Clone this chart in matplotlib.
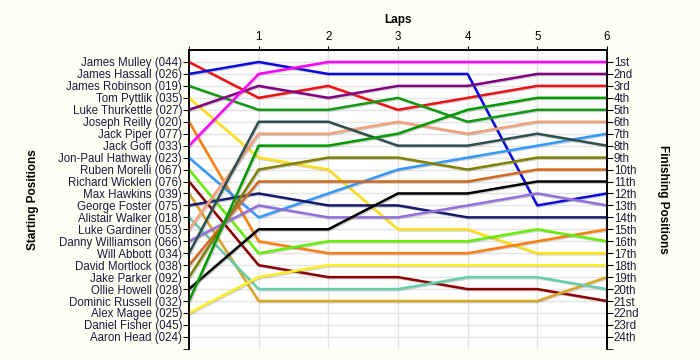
import matplotlib
matplotlib.use("Agg")
import matplotlib.pyplot as plt
import matplotlib.patheffects as pe

plt.rcParams["font.family"] = ["Liberation Sans", "DejaVu Sans"]

starting_names = [
    "James Mulley (044)", "James Hassall (026)", "James Robinson (019)",
    "Tom Pyttlik (035)", "Luke Thurkettle (027)", "Joseph Reilly (020)",
    "Jack Piper (077)", "Jack Goff (033)", "Jon-Paul Hathway (023)",
    "Ruben Morelli (067)", "Richard Wicklen (076)", "Max Hawkins (039)",
    "George Foster (075)", "Alistair Walker (018)", "Luke Gardiner (053)",
    "Danny Williamson (066)", "Will Abbott (034)", "David Mortlock (038)",
    "Jake Parker (092)", "Ollie Howell (028)", "Dominic Russell (032)",
    "Alex Magee (025)", "Daniel Fisher (045)", "Aaron Head (024)",
]
finishing_labels = [
    "1st", "2nd", "3rd", "4th", "5th", "6th", "7th", "8th", "9th", "10th",
    "11th", "12th", "13th", "14th", "15th", "16th", "17th", "18th", "19th",
    "20th", "21st", "22nd", "23rd", "24th",
]
laps = [0, 1, 2, 3, 4, 5, 6]

# position at start and after each lap
mulley = [1, 4, 3, 5, 4, 3, 3]
hassall = [2, 1, 2, 2, 2, 13, 12]
robinson = [3, 5, 5, 4, 6, 5, 5]
pyttlik = [4, 9, 10, 15, 15, 17, 17]
thurkettle = [5, 3, 4, 3, 3, 2, 2]
reilly = [6, 16, 17, 17, 17, 16, 15]
goff = [8, 2, 1, 1, 1, 1, 1]
hathway = [9, 14, 12, 10, 9, 8, 7]
morelli = [10, 17, 16, 16, 16, 15, 16]
wicklen = [11, 18, 19, 19, 20, 20, 21]
hawkins = [12, 21, 21, 21, 21, 21, 19]
foster = [13, 12, 13, 13, 14, 14, 14]
walker = [14, 20, 20, 20, 19, 19, 20]
gardiner = [15, 7, 7, 6, 7, 6, 6]
williamson = [16, 13, 14, 14, 13, 12, 13]
abbott = [17, 6, 6, 8, 8, 7, 8]
mortlock = [18, 11, 11, 11, 11, 10, 10]
parker = [19, 10, 9, 9, 10, 9, 9]
howell = [20, 15, 15, 12, 12, 11, 11]
russell = [21, 8, 8, 7, 5, 4, 4]
magee = [22, 19, 18, 18, 18, 18, 18]

series = [
    (mulley, "#ee1111"), (hassall, "#0a0adc"), (robinson, "#119911"),
    (pyttlik, "#ffe014"), (thurkettle, "#800080"), (reilly, "#ff7f0e"),
    (goff, "#ff00ff"), (hathway, "#3399ff"), (morelli, "#66ee00"),
    (wicklen, "#8b0000"), (hawkins, "#daa520"), (foster, "#191970"),
    (walker, "#66cdaa"), (gardiner, "#f4a07a"), (williamson, "#9370db"),
    (abbott, "#2f4f4f"), (mortlock, "#d2691e"), (parker, "#808000"),
    (howell, "#000000"), (russell, "#009900"), (magee, "#ffee22"),
]

bg = "#fffff4"
fs = 8.3
fig = plt.figure(figsize=(7, 3.6), dpi=100, facecolor=bg)
ax = fig.add_axes([0.27, 0.031, 0.597, 0.83])
ax.set_facecolor("white")

for pos, col in series:
    ax.plot(laps, pos, color=col, lw=1.8, zorder=3,
            path_effects=[pe.SimpleLineShadow(offset=(0.8, -0.8), shadow_color="gray", alpha=0.35),
                          pe.Normal()])

ax.set_xlim(0, 6)
ax.set_ylim(25, 0)

ax.set_yticks(range(1, 25))
ax.set_yticks([25], minor=True)
ax.set_yticklabels(starting_names, fontsize=fs, color="#1a1a40")
ax.set_xticks([1, 2, 3, 4, 5, 6])
ax.set_xticks([0], minor=True)
ax.set_xticklabels(["1", "2", "3", "4", "5", "6"], fontsize=fs)
ax.xaxis.tick_top()
ax.tick_params(axis="x", which="both", length=3, pad=2, top=True, bottom=False)
ax.tick_params(axis="y", which="both", length=4, pad=1)

ax.set_xlabel("Laps", fontsize=8.5, fontweight="bold")
ax.xaxis.set_label_position("top")
ax.xaxis.set_label_coords(0.5, 1.09)
ax.set_ylabel("Starting Positions", fontsize=8.5, fontweight="bold")
ax.yaxis.set_label_coords(-0.36, 0.5)

ax2 = ax.twinx()
ax2.set_ylim(25, 0)
ax2.set_yticks(range(1, 25))
ax2.set_yticks([25], minor=True)
ax2.set_yticklabels(finishing_labels, fontsize=fs, color="#1a1a40")
ax2.tick_params(axis="y", which="both", length=4, pad=1)
ax2.set_ylabel("Finishing Positions", fontsize=8.5, fontweight="bold", rotation=-90, va="center")
ax2.yaxis.set_label_coords(1.135, 0.5)

ax.grid(True, color="#e4e4e4", lw=1, zorder=0)
ax.set_axisbelow(True)
for a in (ax, ax2):
    a.spines["bottom"].set_visible(False)
    for s in ("top", "left", "right"):
        a.spines[s].set_linewidth(1.2)

fig.savefig("out.png", dpi=100, facecolor=bg)
